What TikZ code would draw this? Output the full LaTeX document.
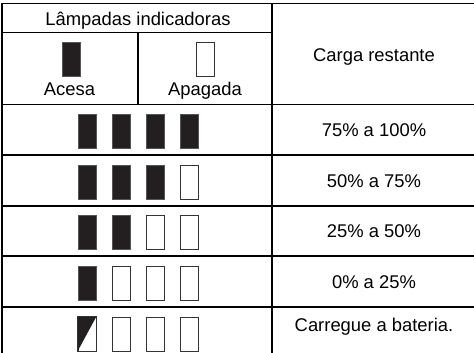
\documentclass[tikz,border=0pt]{standalone}
\usepackage{fontspec}
\setmainfont{Liberation Sans}
\definecolor{lampfill}{HTML}{231F20}
\definecolor{lampedge}{HTML}{555555}
\definecolor{offedge}{HTML}{333333}
\tikzset{
  grid/.style={line width=1.7pt, black, line cap=rect},
  lit/.style={draw=lampedge, fill=lampfill, line width=0.7pt, minimum width=18pt, minimum height=34pt, inner sep=0pt, anchor=north west},
  unlit/.style={draw=offedge, fill=white, line width=0.9pt, minimum width=18pt, minimum height=34pt, inner sep=0pt, anchor=north west},
  lbl/.style={inner sep=0pt, anchor=base, font=\fontsize{18.4}{21}\selectfont}
}
\begin{document}
\begin{tikzpicture}[x=1pt,y=-1pt]
\useasboundingbox (0,0) rectangle (474,353);
% table grid
\draw[grid] (2,355) -- (2,3.5) -- (476,3.5);
\draw[grid] (272,3.5) -- (272,355);
\draw[grid] (2,32.5) -- (272,32.5);
\draw[grid] (138,32.5) -- (138,104.5);
\foreach \yy in {104.5,155.3,205.8,256.3,307}{
  \draw[grid] (2,\yy) -- (476,\yy);
}
% header texts
\node[lbl] (hdr) at (138,26) {Lâmpadas indicadoras};
\node[lbl] (carga) at (374,62) {Carga restante};
% legend
\node[lit] (legon) at (61.7,42) {};
\node[unlit] (legoff) at (195.8,42) {};
\node[lbl] (acesa) at (69.5,95.5) {Acesa};
\node[lbl] (apagada) at (205,95.5) {Apagada};
% rows
\node[lit] (a1) at (77.5,114) {};
\node[lit] (a2) at (111.7,114) {};
\node[lit] (a3) at (145.9,114) {};
\node[lit] (a4) at (180.1,114) {};
\node[lbl] (ta) at (374,136.5) {75\% a 100\%};
\node[lit] (b1) at (77.5,164.5) {};
\node[lit] (b2) at (111.7,164.5) {};
\node[lit] (b3) at (145.9,164.5) {};
\node[unlit] (b4) at (180.1,164.5) {};
\node[lbl] (tb) at (374,187) {50\% a 75\%};
\node[lit] (c1) at (77.5,215) {};
\node[lit] (c2) at (111.7,215) {};
\node[unlit] (c3) at (145.9,215) {};
\node[unlit] (c4) at (180.1,215) {};
\node[lbl] (tc) at (374,237.5) {25\% a 50\%};
\node[lit] (d1) at (77.5,265.5) {};
\node[unlit] (d2) at (111.7,265.5) {};
\node[unlit] (d3) at (145.9,265.5) {};
\node[unlit] (d4) at (180.1,265.5) {};
\node[lbl] (td) at (374,288) {0\% a 25\%};
\node[unlit] (e1) at (77.5,316.5) {};
\fill[lampfill] (e1.north west) -- (e1.north east) -- (e1.south west) -- cycle;
\draw[draw=offedge, line width=0.9pt] (e1.north west) rectangle (e1.south east);
\node[unlit] (e2) at (111.7,316.5) {};
\node[unlit] (e3) at (145.9,316.5) {};
\node[unlit] (e4) at (180.1,316.5) {};
\node[lbl] (te) at (374,331.5) {Carregue a bateria.};
\end{tikzpicture}
\end{document}
